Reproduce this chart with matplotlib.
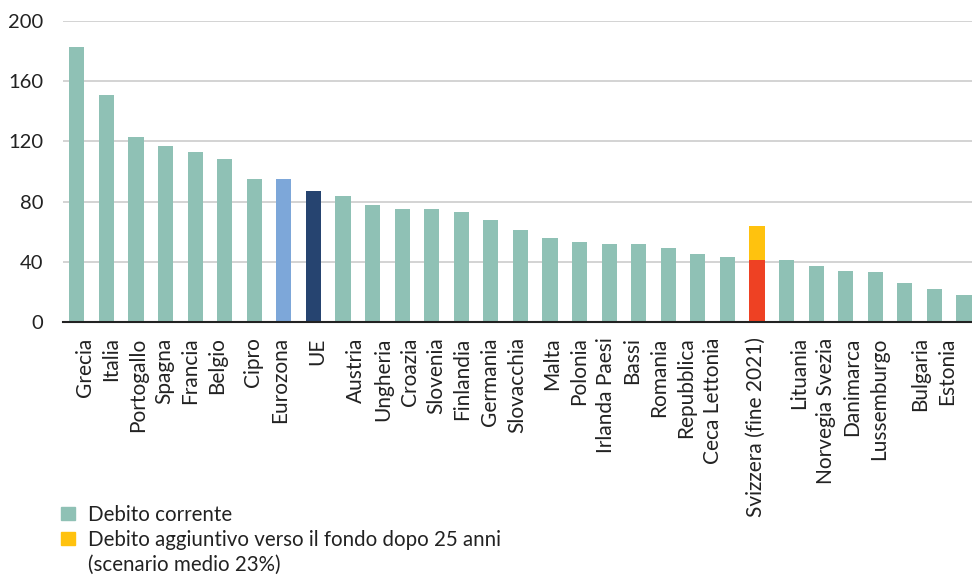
import matplotlib
matplotlib.use("Agg")
import matplotlib.pyplot as plt
from matplotlib.patches import Patch

# debito corrente (% PIL), una barra per paese
valori = [183, 151, 123, 117, 113, 108, 95, 95, 87, 84, 78, 75, 75, 73, 68, 61,
          56, 53, 52, 52, 49, 45, 43, 41, 41, 37, 34, 33, 26, 22, 18]
# debito aggiuntivo verso il fondo (solo Svizzera)
aggiuntivo = [0] * 23 + [23] + [0] * 7

colori = ["#8fc1b5"] * 31
colori[7] = "#7da7d9"   # Eurozona
colori[8] = "#264470"   # UE
colori[23] = "#ee4123"  # Svizzera

# etichette come appaiono nel grafico originale
etichette = ["Grecia", "Italia", "Portogallo", "Spagna", "Francia", "Belgio",
             "Cipro", "Eurozona", "UE", "Austria", "Ungheria", "Croazia",
             "Slovenia", "Finlandia", "Germania", "Slovacchia", "Malta",
             "Polonia", "Irlanda Paesi", "Bassi", "Romania", "Repubblica",
             "Ceca Lettonia", "Svizzera (fine 2021)", "Lituania",
             "Norvegia Svezia", "Danimarca", "Lussemburgo", "Bulgaria", "Estonia"]
pos_etichette = [0.27, 1.15, 2.06, 2.94, 3.82, 4.73, 5.95, 6.87, 8.12, 9.44,
                 10.35, 11.26, 12.14, 13.02, 13.97, 14.88, 16.06, 16.98, 17.89,
                 18.77, 19.68, 20.60, 21.51, 22.96, 24.42, 25.33, 26.21, 27.12,
                 28.51, 29.42]

plt.rcParams['font.family'] = ['Lato', 'DejaVu Sans']

fig = plt.figure(figsize=(9.72, 5.76), dpi=100)
ax = fig.add_axes([0.0648, 0.441, 0.9352, 0.5226])

x = list(range(len(valori)))
ax.bar(x, valori, width=0.51, color=colori, zorder=3)
ax.bar(x, aggiuntivo, width=0.51, bottom=valori, color="#ffc20e", zorder=3)

ax.set_xlim(-0.47, 30.27)
ax.set_ylim(0, 200)
ax.set_yticks([0, 40, 80, 120, 160, 200])
ax.yaxis.grid(True, color="#c8c8c8", linewidth=1.1, zorder=0)
ax.tick_params(axis='y', length=0, pad=14, labelsize=14.5, colors="#222222")
ax.set_xticks(pos_etichette)
ax.set_xticklabels(etichette, rotation=90, fontsize=15, color="#222222")
ax.tick_params(axis='x', length=0, pad=11)

for s in ["top", "right", "left"]:
    ax.spines[s].set_visible(False)
ax.spines["bottom"].set_linewidth(1.5)
ax.spines["bottom"].set_color("#222222")
ax.spines["bottom"].set_zorder(4)

maniglie = [Patch(color="#8fc1b5"), Patch(color="#ffc20e"), Patch(color="none")]
testi = ["Debito corrente", "Debito aggiuntivo verso il fondo dopo 25 anni",
         "(scenario medio 23%)"]
fig.legend(maniglie, testi, loc="upper left", bbox_to_anchor=(0.063, 0.124),
           frameon=False, fontsize=14.8, handlelength=0.65, handleheight=0.6,
           handletextpad=0.65, labelspacing=0.25, labelcolor="#222222",
           borderaxespad=0, borderpad=0)

fig.savefig("out.png", dpi=100)
